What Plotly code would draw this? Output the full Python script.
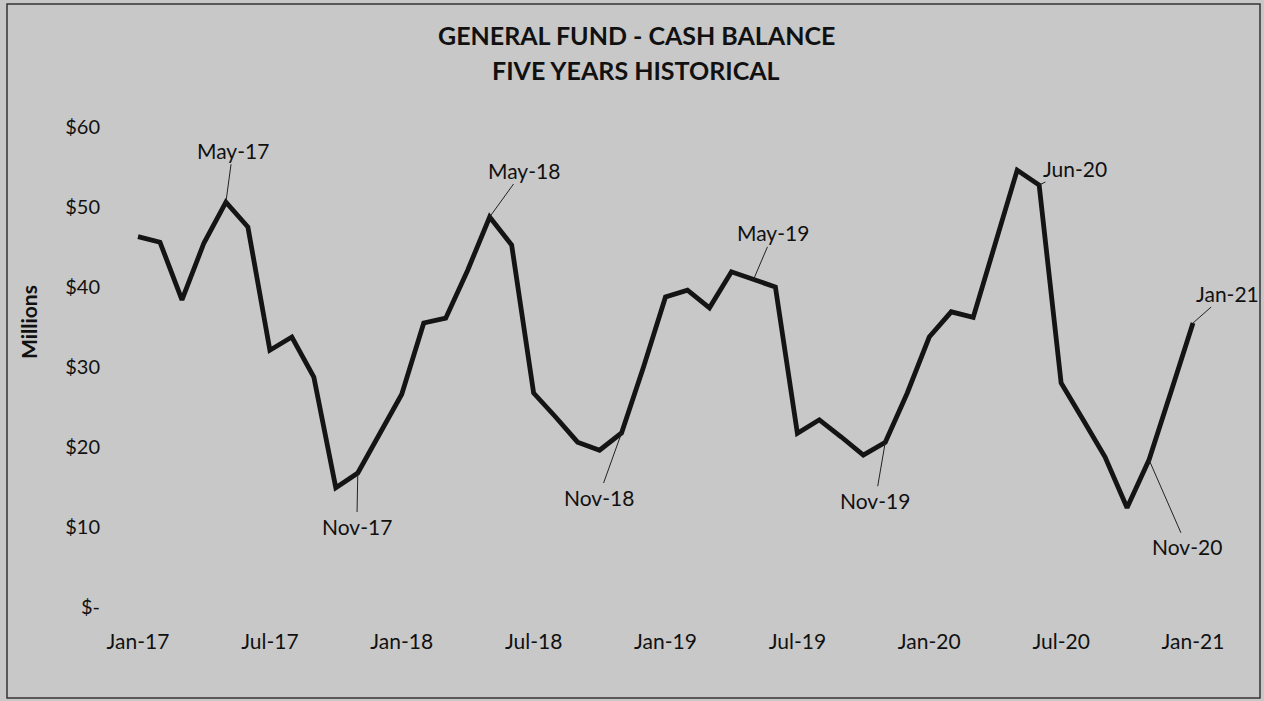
import plotly.graph_objects as go

months = [
    "Jan-17", "Feb-17", "Mar-17", "Apr-17", "May-17", "Jun-17", "Jul-17", "Aug-17", "Sep-17", "Oct-17", "Nov-17", "Dec-17",
    "Jan-18", "Feb-18", "Mar-18", "Apr-18", "May-18", "Jun-18", "Jul-18", "Aug-18", "Sep-18", "Oct-18", "Nov-18", "Dec-18",
    "Jan-19", "Feb-19", "Mar-19", "Apr-19", "May-19", "Jun-19", "Jul-19", "Aug-19", "Sep-19", "Oct-19", "Nov-19", "Dec-19",
    "Jan-20", "Feb-20", "Mar-20", "Apr-20", "May-20", "Jun-20", "Jul-20", "Aug-20", "Sep-20", "Oct-20", "Nov-20", "Dec-20",
    "Jan-21",
]
cash_millions = [
    46.3, 45.6, 38.4, 45.5, 50.6, 47.5, 32.1, 33.75, 28.75, 14.9, 16.75, 21.8,
    26.6, 35.5, 36.1, 42.1, 48.75, 45.25, 26.75, 23.75, 20.6, 19.6, 21.75, 30.0,
    38.75, 39.6, 37.4, 41.9, 40.9, 40.0, 21.7, 23.4, 21.25, 19.0, 20.6, 26.75,
    33.75, 36.9, 36.2, 45.3, 54.6, 52.75, 28.0, 23.4, 18.75, 12.4, 18.4, 26.9,
    35.5,
]
x_tick_labels = ["Jan-17", "Jul-17", "Jan-18", "Jul-18", "Jan-19", "Jul-19", "Jan-20", "Jul-20", "Jan-21"]
y_tick_values = [0, 10, 20, 30, 40, 50, 60]
y_tick_labels = ["$-", "$10", "$20", "$30", "$40", "$50", "$60"]
labelled_months = ["May-17", "Nov-17", "May-18", "Nov-18", "May-19", "Nov-19", "Jun-20", "Nov-20", "Jan-21"]
label_offsets = [(7, -52), (-1, 53), (34, -47), (-23, 64), (20, -47), (-10, 58), (36, -17), (38, 87), (34, -30)]

BG = "#c8c8c8"
FONT = "Lato, 'Open Sans', sans-serif"

W, H = 1264, 701
L, R, T, B = 104, 24, 127, 94
pw, ph = W - L - R, H - T - B
month_px = 1055 / 48.0
x_lo = -(138 - L) / month_px
x_hi = 48 + (W - R - 1193) / month_px

fig = go.Figure()
fig.add_trace(go.Scatter(
    x=months, y=cash_millions, mode="lines",
    line=dict(color="#141414", width=4.8),
    hoverinfo="x+y", showlegend=False,
))

annotations = []
for m, (ax, ay) in zip(labelled_months, label_offsets):
    annotations.append(dict(
        x=m, y=cash_millions[months.index(m)], xref="x", yref="y",
        text=m, showarrow=True, arrowhead=0, arrowwidth=1, arrowcolor="#222",
        ax=ax, ay=ay, standoff=0, font=dict(family=FONT, size=21, color="#111"),
    ))

def px_x(p):
    return (p - L) / pw

def px_y(p):
    return (H - B - p) / ph

annotations += [
    dict(text="<b>GENERAL FUND - CASH BALANCE</b>", x=px_x(636), y=px_y(35), xref="paper", yref="paper",
         showarrow=False, font=dict(family=FONT, size=25, color="#111"), xanchor="center", yanchor="middle"),
    dict(text="<b>FIVE YEARS HISTORICAL</b>", x=px_x(636), y=px_y(70), xref="paper", yref="paper",
         showarrow=False, font=dict(family=FONT, size=25, color="#111"), xanchor="center", yanchor="middle"),
    dict(text="<b>Millions</b>", x=px_x(28), y=px_y(322), xref="paper", yref="paper", textangle=-90,
         showarrow=False, font=dict(family=FONT, size=21, color="#111"), xanchor="center", yanchor="middle"),
]

fig.update_layout(
    width=W, height=H,
    margin=dict(l=L, r=R, t=T, b=B),
    paper_bgcolor=BG, plot_bgcolor=BG,
    font=dict(family=FONT, color="#111"),
    annotations=annotations,
    shapes=[dict(type="rect", xref="paper", yref="paper",
                 x0=px_x(7), x1=px_x(1260), y0=px_y(698), y1=px_y(4),
                 line=dict(color="#333", width=1.5))],
)
fig.update_xaxes(
    type="category", range=[x_lo, x_hi],
    tickmode="array", tickvals=x_tick_labels, ticktext=x_tick_labels,
    showgrid=False, zeroline=False, showline=False, ticks="",
    tickfont=dict(family=FONT, size=21, color="#111"), ticklabelstandoff=20, tickangle=0,
)
fig.update_yaxes(
    range=[0, 60], tickmode="array", tickvals=y_tick_values, ticktext=y_tick_labels,
    showgrid=False, zeroline=False, showline=False, ticks="",
    tickfont=dict(family=FONT, size=20, color="#111"), ticklabelstandoff=3,
)

fig.write_html(
    "out.html",
    config={"displayModeBar": False},
    post_script="document.body.style.margin='0';document.body.style.overflow='hidden';",
)
